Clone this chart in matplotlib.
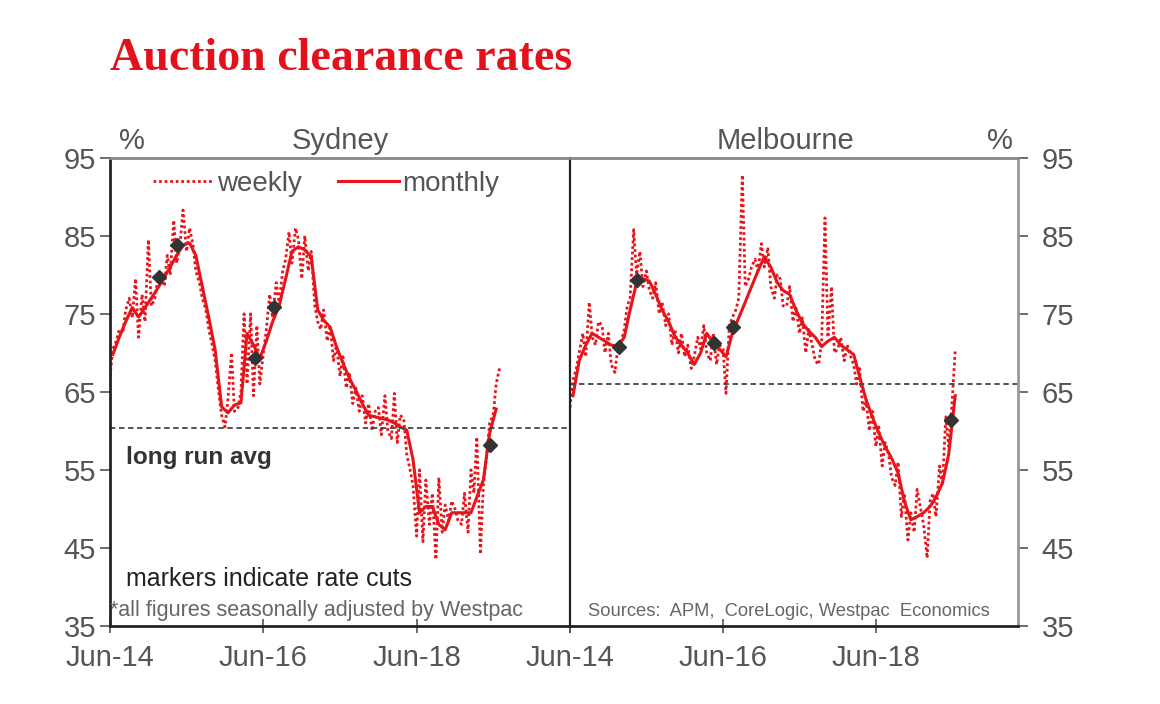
import pandas as pd
import matplotlib
matplotlib.use('Agg')
import matplotlib.pyplot as plt

plt.rcParams['font.family'] = ['Liberation Sans', 'DejaVu Sans']

# monthly averages, Jun-14 onwards
syd_monthly = [69.8, 72, 74, 75.8, 74.6, 75.8, 77, 78.3, 79.7, 81, 82.5, 83.8,
               84.1, 82.5, 78.5, 74.5, 70.4, 63.1, 62.3, 63.3, 63.6, 72.5, 71, 69.3,
               71.5, 74, 76, 79.5, 83, 83.6, 83.2, 82.3, 75.5, 74.2, 73.3, 70.8,
               68.7, 66.8, 65.2, 63.5, 62, 61.8, 61.6, 61.4, 61, 60.5, 60.1, 56.3,
               49.5, 50.3, 50.3, 48, 47.3, 49.5, 49.5, 49.5, 49.5, 51.5, 53.7, 59.7,
               62.8]
mel_monthly = [64.5, 69, 71, 72.5, 72, 71.5, 71, 70.8, 72, 75.5, 79, 79.5,
               79.2, 77.5, 75.5, 74, 72.1, 71, 70, 68.5, 70, 72.5, 71.3, 70.5,
               69.5, 72.5, 74.5, 76.5, 78.5, 80.5, 82.3, 81, 79, 78, 77.5, 75.5,
               73.8, 72.8, 72, 70.8, 71.5, 72, 71, 70.4, 69.8, 67, 64, 61.8,
               59.7, 58, 56.5, 54.6, 51, 48.6, 49, 49.5, 50.3, 51.5, 53.3, 57,
               64.5]

# weekly results (read off roughly every half month), Jun-14 onwards
syd_weekly = [67, 70.5, 71.5, 73, 72.5, 75.5, 77, 74.5, 79.5, 72, 77.5, 74,
              84.5, 76, 77, 79.5, 80, 78.5, 82.5, 80, 87, 81.5, 84, 88.3,
              83, 86, 84, 80.5, 79, 77, 75.5, 73, 71, 69, 65, 62,
              60.5, 64, 70, 62.5, 63, 65, 75, 66, 75, 64.5, 73.5, 66,
              70, 73, 77.5, 74.5, 79, 76.5, 80.5, 82, 85.5, 81.5, 86, 84.5,
              79.5, 85, 80.5, 83, 76, 74, 73, 75.5, 71.5, 73.5, 69, 71,
              67, 69.5, 65.5, 67.5, 63.5, 65.5, 62.5, 64.5, 61, 63.5, 60, 62.5,
              63, 59.5, 64.5, 60, 59, 64.8, 58.5, 62, 61.5, 57, 55, 53,
              46.5, 55, 45.8, 53.7, 48, 52, 43.5, 54, 47, 50.5, 48.5, 51,
              50, 48.5, 48, 52, 47, 55, 52, 59.2, 44.2, 53, 57, 61,
              62, 66, 68]
mel_weekly = [63, 66.5, 68, 70, 72.5, 69.5, 76.5, 72, 71, 74, 73.5, 70,
              72.5, 68.5, 67.5, 70.5, 71.5, 73, 76, 77, 85.8, 80, 83, 78.5,
              80.5, 78, 77, 79, 75, 76.5, 73.5, 75, 71, 73, 70, 72.5,
              69.5, 71, 68, 69.5, 72, 70.5, 73.5, 70, 69, 72.5, 68.5, 71,
              70.5, 64.8, 73.5, 74.5, 75.5, 77, 92.8, 78.5, 79.5, 81, 82, 80.5,
              84, 81, 83.5, 78.5, 77, 80, 79.5, 76, 76, 78.5, 74, 76,
              72.5, 74.5, 70, 73, 71, 69, 68.5, 71.5, 87.3, 72, 78.5, 70,
              70.5, 72, 69, 71, 69.5, 68.5, 66, 68, 62.5, 64, 60, 62.5,
              58, 60.5, 55.5, 58.5, 57, 54, 53, 56, 49, 52, 46, 49.5,
              47, 52.5, 50, 48, 43.7, 51, 52, 49, 55.5, 53, 61.8, 58,
              64, 70.4]

# rate cut markers
syd_cut_dates = ['2015-01-20', '2015-04-15', '2016-04-20', '2016-07-20', '2019-05-15']
syd_cut_vals = [79.7, 83.8, 69.3, 75.9, 58.2]
mel_cut_dates = ['2015-01-20', '2015-04-15', '2016-04-20', '2016-07-20', '2019-05-25']
mel_cut_vals = [70.8, 79.4, 71.3, 73.3, 61.4]

syd_avg = 60.4
mel_avg = 66.0

red = '#e8141b'
grey = '#555555'

fig = plt.figure(figsize=(11.6, 7.04), dpi=100)
ax1 = fig.add_axes([0.0948, 0.111, 0.3966, 0.6648])
ax2 = fig.add_axes([0.4914, 0.111, 0.3862, 0.6648])
ax2.patch.set_visible(False)
ax1.set_zorder(3)
ax1.patch.set_visible(False)


def draw(ax, weekly, monthly, cut_d, cut_v, avg):
    wd = pd.date_range('2014-06-01', periods=len(weekly), freq='SMS')
    md = pd.date_range('2014-06-01', periods=len(monthly), freq='MS') + pd.Timedelta(days=14)
    ax.plot(wd, weekly, color=red, lw=2, linestyle=(0, (1, 1)), label='weekly')
    ax.plot(md, monthly, color=red, lw=2.2, label='monthly')
    ax.axhline(avg, color='#444444', lw=1.3, linestyle=(0, (3, 2)))
    ax.plot(pd.to_datetime(cut_d), cut_v, 'D', color='#333333', ms=7, zorder=5)
    ax.set_ylim(35, 95)
    ax.set_yticks(range(35, 96, 10))
    ax.tick_params(labelsize=21, colors=grey, length=7, width=1.2)
    ax.tick_params(axis='x', direction='inout', length=10, pad=8)
    ax.spines['top'].set_color('#888888')
    ax.spines['top'].set_linewidth(2)
    ax.spines['bottom'].set_color('#222222')
    ax.spines['bottom'].set_linewidth(2)


draw(ax1, syd_weekly, syd_monthly, syd_cut_dates, syd_cut_vals, syd_avg)
draw(ax2, mel_weekly, mel_monthly, mel_cut_dates, mel_cut_vals, mel_avg)

ticks = pd.to_datetime(['2014-06-01', '2016-06-01', '2018-06-01', '2020-06-01'])
ax1.set_xlim(pd.Timestamp('2014-06-01'), pd.Timestamp('2020-06-01'))
ax1.set_xticks(ticks)
ax1.set_xticklabels(['Jun-14', 'Jun-16', 'Jun-18', ''])
ax2.set_xlim(pd.Timestamp('2014-06-01'), pd.Timestamp('2020-04-10'))
ax2.set_xticks(ticks[:3])
ax2.set_xticklabels(['Jun-14', 'Jun-16', 'Jun-18'])

ax1.spines['left'].set_color('#222222')
ax1.spines['left'].set_linewidth(2)
ax1.spines['right'].set_color('#222222')
ax1.spines['right'].set_linewidth(1.6)
ax2.spines['left'].set_visible(False)
ax2.spines['right'].set_color('#999999')
ax2.spines['right'].set_linewidth(2)
ax2.yaxis.tick_right()
ax2.tick_params(axis='y', left=False, right=True, pad=10)
ax1.tick_params(axis='y', pad=3)

leg = ax1.legend(loc='upper left', ncol=2, frameon=False, fontsize=20,
                 handlelength=2.2, handletextpad=0.1, columnspacing=1.3,
                 bbox_to_anchor=(0.04, 1.025), labelcolor=grey)

ax1.text(0.02, 1.005, '%', transform=ax1.transAxes, fontsize=21, color=grey, va='bottom')
ax1.text(0.5, 1.005, 'Sydney', transform=ax1.transAxes, fontsize=21, color=grey,
         va='bottom', ha='center')
ax2.text(0.48, 1.005, 'Melbourne', transform=ax2.transAxes, fontsize=21, color=grey,
         va='bottom', ha='center')
ax2.text(0.93, 1.005, '%', transform=ax2.transAxes, fontsize=21, color=grey, va='bottom')

ax1.text(0.035, 0.345, 'long run avg', transform=ax1.transAxes, fontsize=17.5,
         color='#333333', fontweight='bold')
ax1.text(0.035, 0.085, 'markers indicate rate cuts', transform=ax1.transAxes,
         fontsize=18, color='#222222')
ax1.text(0.0, 0.02, '*all figures seasonally adjusted by Westpac', transform=ax1.transAxes,
         fontsize=15.5, color='#666666')
ax2.text(0.04, 0.02, 'Sources:  APM,  CoreLogic, Westpac  Economics', transform=ax2.transAxes,
         fontsize=13.2, color='#666666')

fig.text(0.095, 0.9, 'Auction clearance rates', fontsize=33, color='#e3111b',
         fontweight='bold', family='Liberation Serif')

fig.savefig('out.png', dpi=100)
